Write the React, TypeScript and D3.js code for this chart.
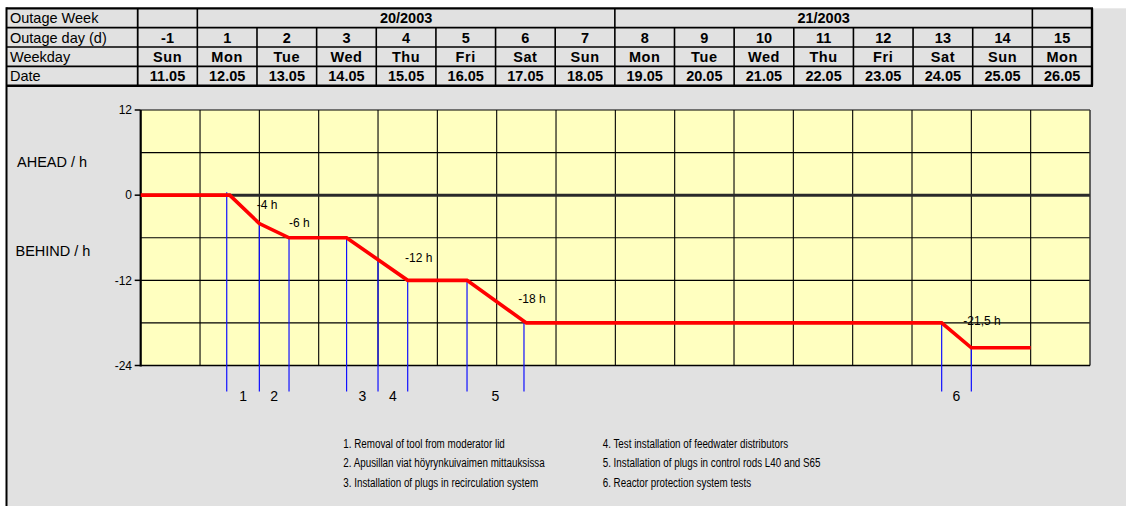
import React from "react";
import * as d3 from "d3";

// ---------- data ----------
const rowLabels = ["Outage Week", "Outage day (d)", "Weekday", "Date"];
const weekLabels = ["", "20/2003", "21/2003", ""];
const weekSpans = [1, 7, 7, 1];
const outageDays = ["-1", "1", "2", "3", "4", "5", "6", "7", "8", "9", "10", "11", "12", "13", "14", "15"];
const weekdays = ["Sun", "Mon", "Tue", "Wed", "Thu", "Fri", "Sat", "Sun", "Mon", "Tue", "Wed", "Thu", "Fri", "Sat", "Sun", "Mon"];
const dates = ["11.05", "12.05", "13.05", "14.05", "15.05", "16.05", "17.05", "18.05", "19.05", "20.05", "21.05", "22.05", "23.05", "24.05", "25.05", "26.05"];

// deviation curve: time in days from Sun 11.05 00:00, hours ahead(+)/behind(-)
const devTimes = [0, 1.5, 2, 2.5, 3.47, 4.5, 5.5, 6.5, 13.5, 14, 15];
const devHours = [0, 0, -4, -6, -6, -12, -12, -18, -18, -21.5, -21.5];

// deviation value labels (placed in data units)
const devLabelTexts = ["-4 h", "-6 h", "-12 h", "-18 h", "-21,5 h"];
const devLabelTimes = [1.955, 2.5, 4.455, 6.364, 13.865];
const devLabelHours = [-1.4, -3.9, -8.8, -14.6, -17.65];

// events (blue markers)
const eventNumbers = ["1", "2", "3", "4", "5", "6"];
const eventStarts = [1.45, 2.0, 3.47, 4.0, 5.5, 13.5];
const eventEnds = [2.0, 2.5, 4.0, 4.5, 6.46, 14.0];
const eventTexts = [
  "1. Removal of tool from moderator lid",
  "2. Apusillan viat höyrynkuivaimen mittauksissa",
  "3. Installation of plugs in recirculation system",
  "4. Test installation of feedwater distributors",
  "5. Installation of plugs in control rods L40 and S65",
  "6. Reactor protection system tests",
];

const yTicks = [12, 0, -12, -24];
const yGrid = [12, 6, 0, -6, -12, -18, -24];

// ---------- component ----------
export default function App() {
  const W = 1126;
  const H = 506;
  const font = "'Liberation Sans', Arial, sans-serif";

  // table geometry
  const tableLeft = 6.5;
  const tx = d3.scaleLinear().domain([0, 16]).range([137.7, 1092]);
  const ty = d3.scaleLinear().domain([0, 4]).range([8.3, 85.7]);

  // plot geometry
  const px = d3.scaleLinear().domain([0, 16]).range([140.7, 1090]);
  const py = d3.scaleLinear().domain([-24, 12]).range([365.5, 110]);

  const curveAt = (t: number) => {
    for (let i = 0; i < devTimes.length - 1; i++) {
      if (t >= devTimes[i] && t <= devTimes[i + 1]) {
        const f = (t - devTimes[i]) / (devTimes[i + 1] - devTimes[i]);
        return devHours[i] + f * (devHours[i + 1] - devHours[i]);
      }
    }
    return devHours[devHours.length - 1];
  };

  const line = d3
    .line<number>()
    .x((_, i) => px(devTimes[i]))
    .y((v) => py(v));

  const markerTimes = Array.from(new Set([...eventStarts, ...eventEnds])).sort((a, b) => a - b);
  const markerBottom = py(-24) + 26;

  // week span boundaries
  const weekBounds: number[] = [0];
  weekSpans.forEach((s) => weekBounds.push(weekBounds[weekBounds.length - 1] + s));

  const rowMid = (r: number) => (ty(r) + ty(r + 1)) / 2;

  return (
    <svg
      width={W}
      height={H}
      style={{ position: "absolute", left: 0, top: 0, display: "block" }}
      fontFamily={font}
    >
      <rect x={0} y={0} width={W} height={H} fill="#ffffff" />
      <rect x={tableLeft} y={ty(0)} width={W - tableLeft} height={H - ty(0)} fill="#e1e1e1" />

      {/* ---------- header table ---------- */}
      {rowLabels.map((l, r) => (
        <text key={"rl" + r} x={10} y={rowMid(r)} dy="0.36em" fontSize={14.5} fill="#000">
          {l}
        </text>
      ))}
      {weekLabels.map((l, i) => (
        <text
          key={"wk" + i}
          x={(tx(weekBounds[i]) + tx(weekBounds[i + 1])) / 2}
          y={rowMid(0)}
          dy="0.36em"
          textAnchor="middle"
          fontSize={14.5}
          fontWeight="bold"
        >
          {l}
        </text>
      ))}
      {[outageDays, weekdays, dates].map((arr, ri) =>
        arr.map((v, i) => (
          <text
            key={"c" + ri + "-" + i}
            x={(tx(i) + tx(i + 1)) / 2}
            y={rowMid(ri + 1)}
            dy="0.36em"
            textAnchor="middle"
            fontSize={14.5}
            fontWeight="bold"
            letterSpacing={ri === 1 ? 0.6 : 0}
          >
            {v}
          </text>
        ))
      )}
      {/* horizontal table lines */}
      {[1, 2, 3].map((r) => (
        <line key={"hl" + r} x1={tableLeft} x2={tx(16)} y1={ty(r)} y2={ty(r)} stroke="#000" strokeWidth={1.6} />
      ))}
      {/* vertical lines: week row */}
      {weekBounds.slice(1, -1).map((b, i) => (
        <line key={"wv" + i} x1={tx(b)} x2={tx(b)} y1={ty(0)} y2={ty(1)} stroke="#000" strokeWidth={1.6} />
      ))}
      {/* vertical lines: day rows */}
      {d3.range(1, 16).map((i) => (
        <line key={"dv" + i} x1={tx(i)} x2={tx(i)} y1={ty(1)} y2={ty(4)} stroke="#000" strokeWidth={1.6} />
      ))}
      <line x1={tx(0)} x2={tx(0)} y1={ty(0)} y2={ty(4)} stroke="#000" strokeWidth={1.8} />
      {/* outer border */}
      <line x1={tableLeft} x2={tx(16) + 1} y1={ty(0)} y2={ty(0)} stroke="#000" strokeWidth={2.2} />
      <line x1={tableLeft} x2={tx(16) + 1} y1={ty(4)} y2={ty(4)} stroke="#000" strokeWidth={2.4} />
      <line x1={tx(16)} x2={tx(16)} y1={ty(0)} y2={ty(4)} stroke="#000" strokeWidth={2.4} />
      <line x1={tableLeft} x2={tableLeft} y1={ty(0) - 1} y2={H} stroke="#000" strokeWidth={2} />

      {/* ---------- plot ---------- */}
      <rect x={px(0)} y={py(12)} width={px(16) - px(0)} height={py(-24) - py(12)} fill="#ffffc0" />
      {yGrid.map((v) => (
        <line key={"yg" + v} x1={px(0)} x2={px(16)} y1={py(v)} y2={py(v)} stroke="#000" strokeWidth={1.2} />
      ))}
      {d3.range(1, 16).map((i) => (
        <line key={"xg" + i} x1={px(i)} x2={px(i)} y1={py(12)} y2={py(-24)} stroke="#000" strokeWidth={1.1} />
      ))}
      {/* zero line */}
      <line x1={px(0)} x2={px(16)} y1={py(0)} y2={py(0)} stroke="#2a2a2a" strokeWidth={3} />
      {/* plot borders */}
      <line x1={px(16)} x2={px(16)} y1={py(12)} y2={py(-24)} stroke="#333" strokeWidth={1.5} />
      <line x1={px(0)} x2={px(16)} y1={py(-24)} y2={py(-24)} stroke="#000" strokeWidth={1.5} />
      <line x1={px(0)} x2={px(0)} y1={py(12)} y2={py(-24) + 1} stroke="#000" strokeWidth={2.2} />
      {yTicks.map((v) => (
        <g key={"yt" + v}>
          <line x1={px(0) - 6} x2={px(0)} y1={py(v)} y2={py(v)} stroke="#000" strokeWidth={1.5} />
          <text x={132} y={py(v)} dy="0.36em" textAnchor="end" fontSize={12}>
            {v}
          </text>
        </g>
      ))}
      <text x={17} y={161.7} dy="0.36em" fontSize={14.5}>
        AHEAD / h
      </text>
      <text x={15.5} y={250.7} dy="0.36em" fontSize={14.5}>
        BEHIND / h
      </text>

      {/* blue event markers */}
      {markerTimes.map((t, i) => (
        <line
          key={"bm" + i}
          x1={px(t)}
          x2={px(t)}
          y1={py(curveAt(t)) - (curveAt(t) === 0 ? 3 : 0)}
          y2={markerBottom}
          stroke="#1010ff"
          strokeWidth={1.2}
        />
      ))}
      {eventNumbers.map((n, i) => (
        <text
          key={"en" + i}
          x={(px(eventStarts[i]) + px(eventEnds[i])) / 2}
          y={markerBottom + 4}
          dy="0.36em"
          textAnchor="middle"
          fontSize={14}
        >
          {n}
        </text>
      ))}

      {/* red deviation curve */}
      <path d={line(devHours) || ""} fill="none" stroke="#ff0000" strokeWidth={3.6} strokeLinejoin="miter" />

      {devLabelTexts.map((l, i) => (
        <text key={"dl" + i} x={px(devLabelTimes[i])} y={py(devLabelHours[i])} dy="0.36em" fontSize={12}>
          {l}
        </text>
      ))}

      {/* legend */}
      {eventTexts.map((t, i) => {
        const col = Math.floor(i / 3);
        const row = i % 3;
        const x = col === 0 ? 343.3 : 602.7;
        const y = 443.3 + row * 19.2;
        return (
          <text
            key={"lg" + i}
            transform={`translate(${x},${y}) scale(0.728,1)`}
            dy="0.36em"
            fontSize={13.5}
          >
            {t}
          </text>
        );
      })}
    </svg>
  );
}
